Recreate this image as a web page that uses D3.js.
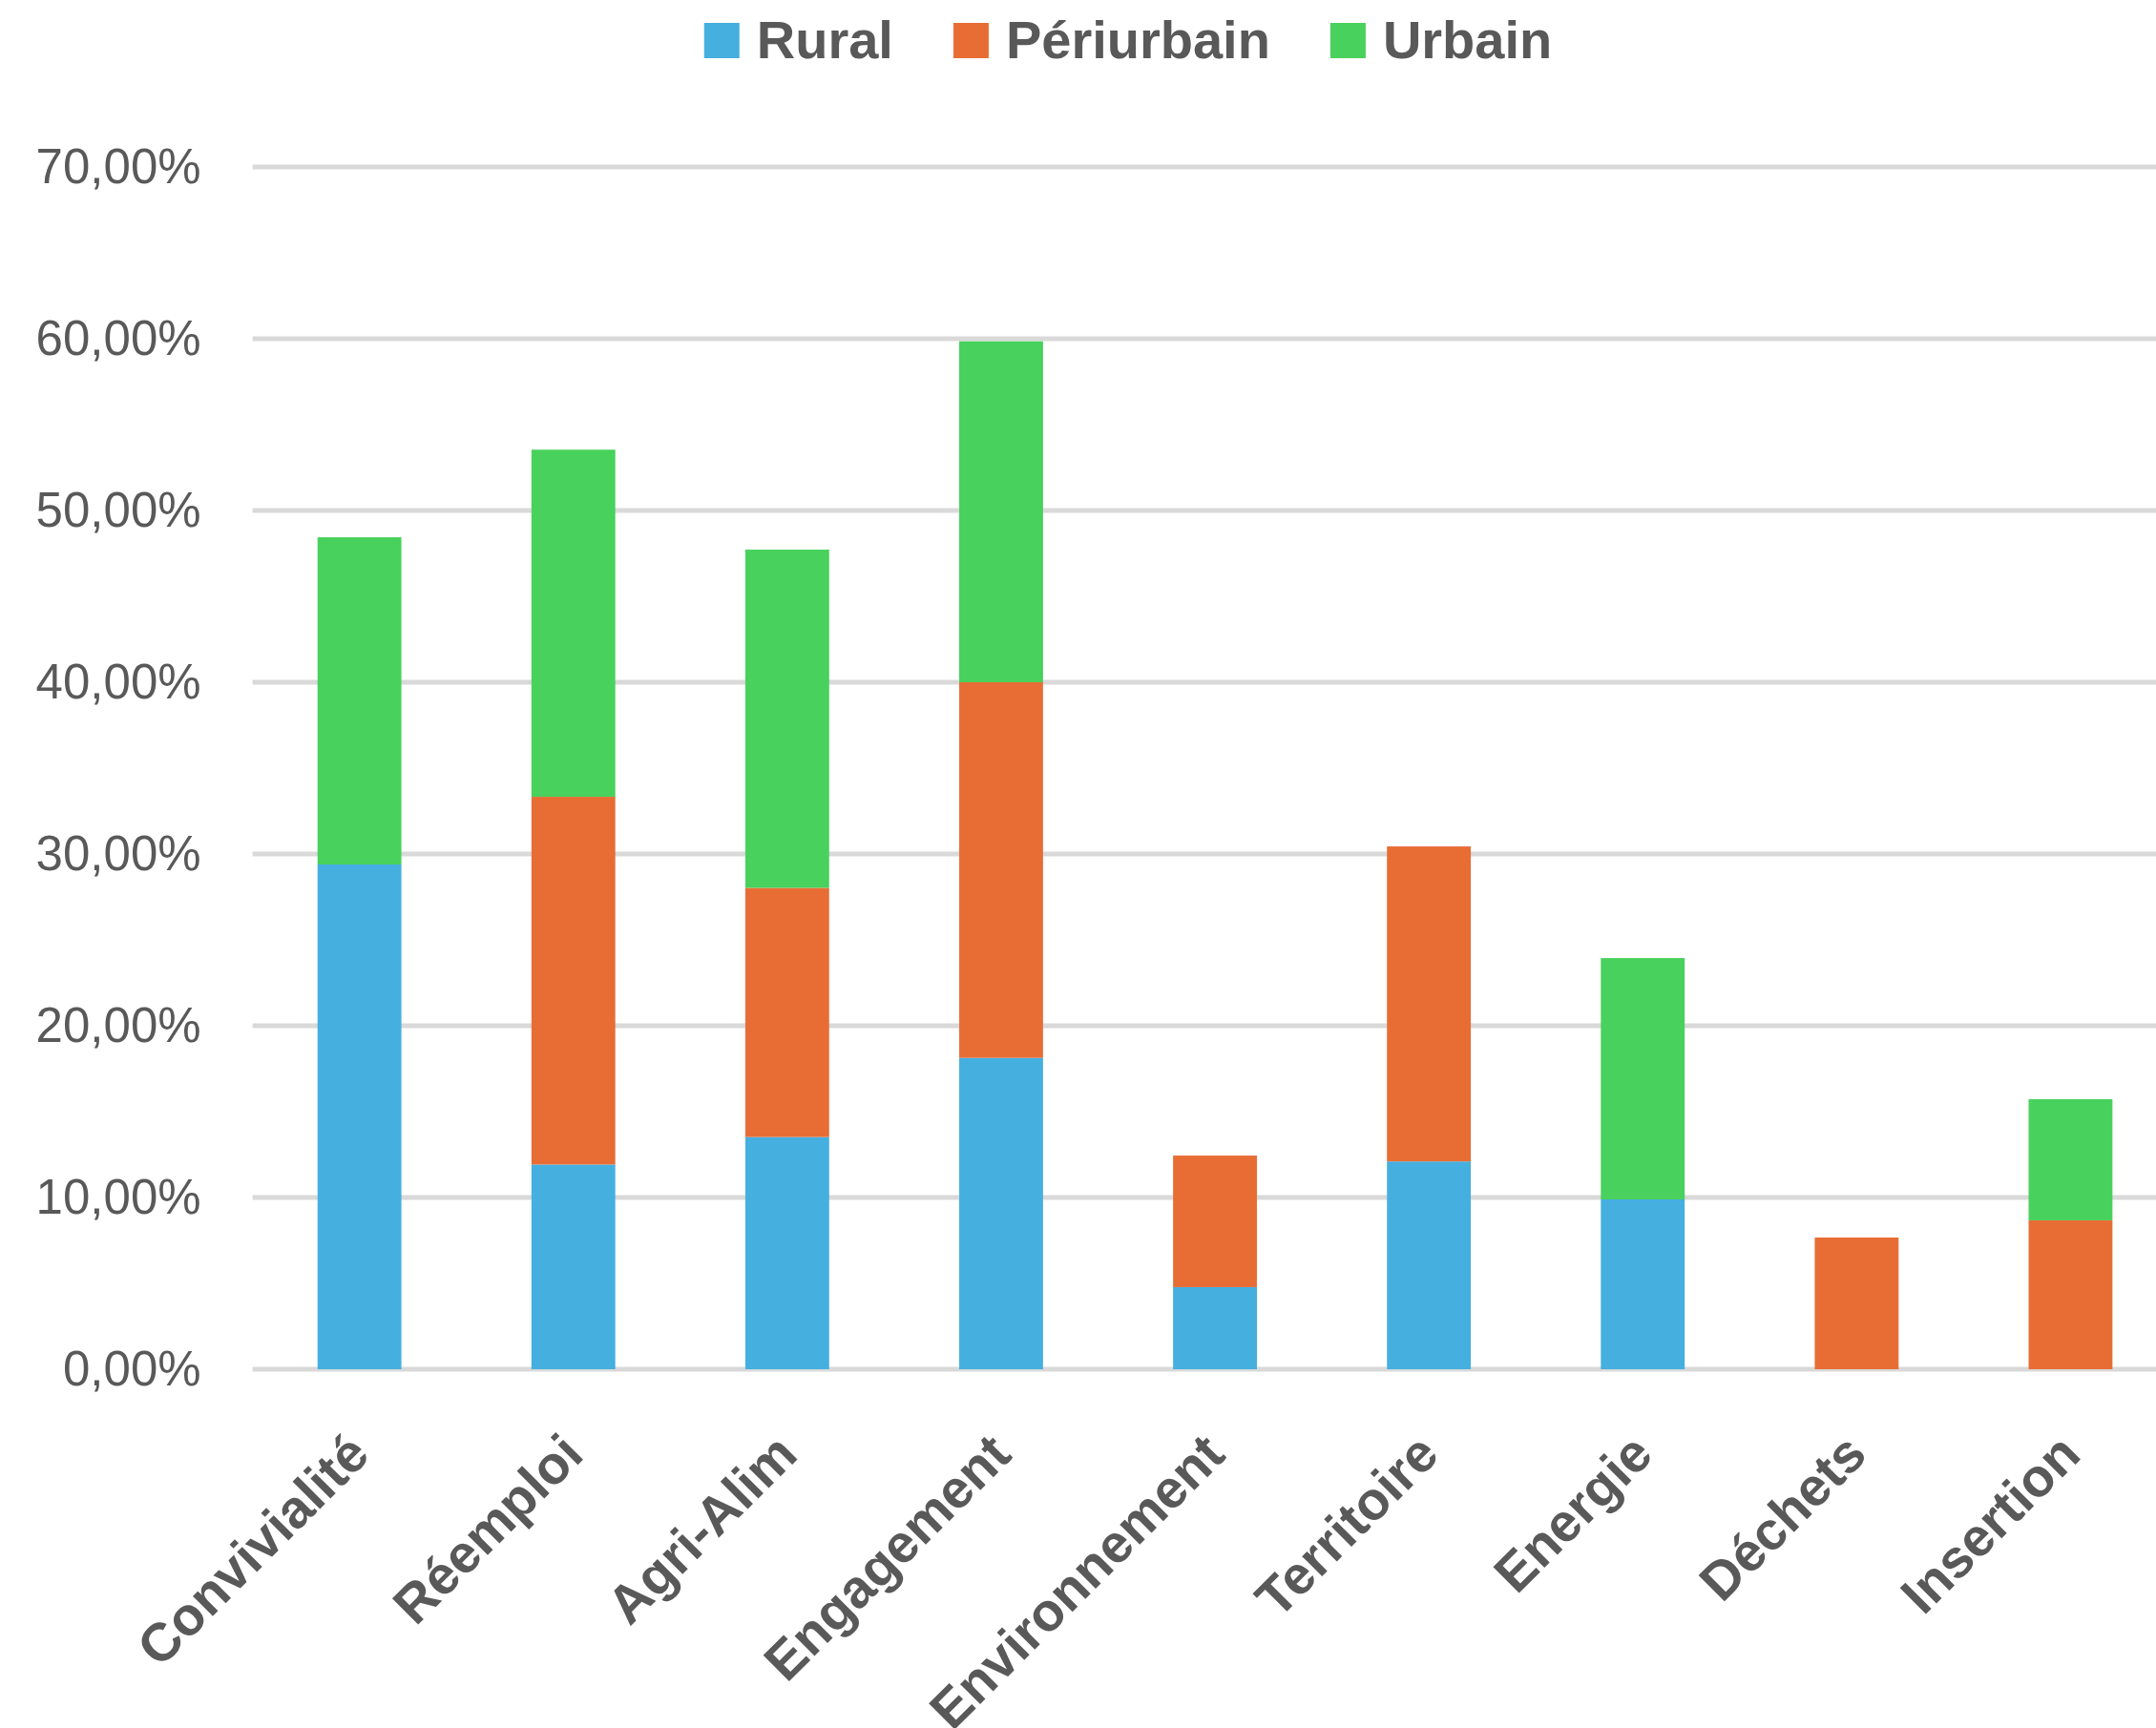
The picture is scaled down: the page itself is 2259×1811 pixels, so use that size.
<!DOCTYPE html>
<html>
<head>
<meta charset="utf-8">
<script src="https://cdn.jsdelivr.net/npm/d3@7"></script>
<style>
    body { margin: 0; background: white; }
    svg { display: block; }
</style>
</head>
<body>
<svg></svg>
<script>
// values, in %
const categories = ["Convivialité", "Réemploi", "Agri-Alim", "Engagement", "Environnement", "Territoire", "Energie", "Déchets", "Insertion"]
const rural = [29.39, 11.92, 13.52, 18.13, 4.78, 12.10, 9.89, 0, 0]
const periurbain = [0, 21.41, 14.51, 21.87, 7.66, 18.34, 0, 7.67, 8.67]
const urbain = [19.05, 20.21, 19.69, 19.85, 0, 0, 14.05, 0, 7.05]
const seriesNames = ["Rural", "Périurbain", "Urbain"]
const yTicks = [0, 10, 20, 30, 40, 50, 60, 70]

const svgWidth = 2259
const svgHeight = 1811
const margins = { top: 175, bottom: 376, left: 264.6, right: -22.5 } // plot runs a bit past the right edge
const plotHeight = svgHeight - margins.top - margins.bottom
const plotWidth = svgWidth - margins.left - margins.right

const colors = ["#45AFE0", "#E86D35", "#48D15C"]
const textColor = "#595959"

const svg = d3.select("svg")
    .attr("width", svgWidth)
    .attr("height", svgHeight)

const rows = categories.map((c, i) => {
    return { cat: c, Rural: rural[i], "Périurbain": periurbain[i], Urbain: urbain[i] }
})
const stacked = d3.stack().keys(seriesNames)(rows)

const xScale = d3.scaleBand()
    .domain(categories)
    .range([0, plotWidth])
    .paddingInner(0.608)
    .paddingOuter(0.304)

const yScale = d3.scaleLinear()
    .domain([0, 70])
    .range([plotHeight, 0])

const plotGroup = svg.append("g")
    .attr("transform", `translate(${margins.left},${margins.top})`)

// gridlines
plotGroup.selectAll(".grid")
    .data(yTicks)
    .join("line")
    .attr("class", "grid")
    .attr("x1", 0)
    .attr("x2", svgWidth - margins.left)
    .attr("y1", (d) => yScale(d))
    .attr("y2", (d) => yScale(d))
    .attr("stroke", "#D9D9D9")
    .attr("stroke-width", 5)

// y axis labels
const yAxis = plotGroup.append("g")
    .attr("transform", `translate(-54,0)`)
    .call(d3.axisLeft(yScale).tickValues(yTicks).tickSize(0).tickPadding(0)
        .tickFormat((d) => d3.format(".2f")(d).replace(".", ",") + "%"))
yAxis.select(".domain").remove()
yAxis.selectAll("text")
    .attr("fill", textColor)
    .attr("font-family", "Liberation Sans, Arial, sans-serif")
    .attr("font-size", 51)

// stacked bars
plotGroup.selectAll(".series")
    .data(stacked)
    .join("g")
    .attr("class", "series")
    .attr("fill", (d, i) => colors[i])
    .selectAll("rect")
    .data((d) => d.filter((p) => p[1] - p[0] > 0))
    .join("rect")
    .attr("x", (d) => xScale(d.data.cat))
    .attr("y", (d) => yScale(d[1]))
    .attr("width", xScale.bandwidth())
    .attr("height", (d) => yScale(d[0]) - yScale(d[1]))

// category labels, rotated
const xAxis = plotGroup.append("g")
    .attr("transform", `translate(0,${plotHeight})`)
    .call(d3.axisBottom(xScale).tickSize(0).tickPadding(0))
xAxis.select(".domain").remove()
xAxis.selectAll("text")
    .attr("fill", textColor)
    .attr("font-family", "Liberation Sans, Arial, sans-serif")
    .attr("font-weight", "bold")
    .attr("font-size", 56)
    .attr("text-anchor", "end")
    .attr("dy", 0)
    .attr("y", 0)
    .attr("transform", "translate(13,92) rotate(-45)")

// legend
const legend = svg.append("g")
let lx = 0
seriesNames.forEach((name, i) => {
    legend.append("rect")
        .attr("x", lx)
        .attr("y", 24)
        .attr("width", 37)
        .attr("height", 37)
        .attr("fill", colors[i])
    const t = legend.append("text")
        .text(name)
        .attr("x", lx + 55)
        .attr("y", 61)
        .attr("fill", textColor)
        .attr("font-family", "Liberation Sans, Arial, sans-serif")
        .attr("font-weight", "bold")
        .attr("font-size", 56)
    lx += 55 + t.node().getComputedTextLength() + 63
})
const legendWidth = lx - 63
legend.attr("transform", `translate(${1182 - legendWidth / 2},0)`)
</script>
</body>
</html>
